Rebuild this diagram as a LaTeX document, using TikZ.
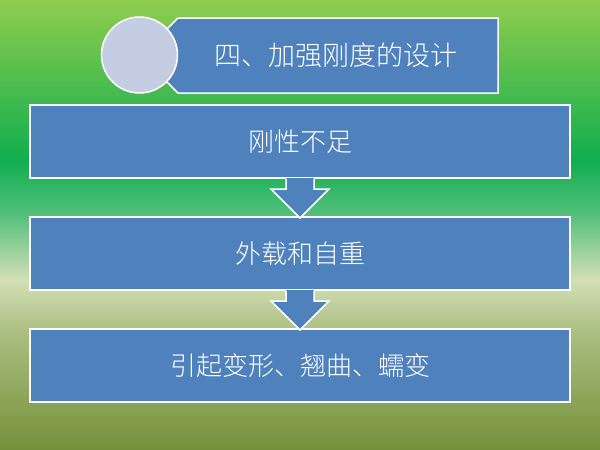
\documentclass[tikz,border=0pt]{standalone}
\usepackage{fontspec}
\newfontfamily\cjk{Noto Sans CJK SC}[UprightFont=* Light]
\definecolor{g0}{HTML}{8FCD4E}
\definecolor{g1}{HTML}{10AE4F}
\definecolor{g2}{HTML}{55C07C}
\definecolor{g3}{HTML}{D3DFB5}
\definecolor{g4}{HTML}{ABBF82}
\definecolor{g5}{HTML}{75913A}
\definecolor{boxblue}{HTML}{4F81BD}
\definecolor{circfill}{HTML}{C5CDE3}
\pgfdeclareverticalshading{bgshade}{100bp}{color(0bp)=(g5); color(25bp)=(g5); color(38.3bp)=(g4); color(43.9bp)=(g3); color(51.1bp)=(g2); color(57.2bp)=(g1); color(75bp)=(g0); color(100bp)=(g0)}
\tikzset{
  bluebox/.style={fill=boxblue, draw=white, line width=1.5pt},
  boxtext/.style={text=white, font=\cjk\fontsize{26}{30}\selectfont, inner sep=0pt},
  arrowfill/.style={fill=boxblue},
  arrowline/.style={draw=white, line width=1.5pt, line join=miter}
}
\begin{document}
\begin{tikzpicture}[x=1pt,y=-1pt]
\useasboundingbox (0,0) rectangle (600,450);
\shade[shading=bgshade] (0,0) rectangle (600,450);
% title shape
\filldraw[bluebox] (178,18) -- (498,18) -- (498,93) -- (178,93) -- (150,65) -- (150,46) -- cycle;
\node[boxtext, font=\cjk\fontsize{27}{30}\selectfont] (title) at (336,55) {四、加强刚度的设计};
\draw[fill=circfill, draw=white, line width=1.5pt] (139.5,55) circle[radius=38];
\coordinate (circ) at (139.5,55);
% boxes
\draw[bluebox] (30,105) rectangle (570,178);
\node[boxtext] (b1) at (300,142) {刚性不足};
\draw[bluebox] (30,217) rectangle (570,290);
\node[boxtext] (b2) at (300,254) {外载和自重};
\draw[bluebox] (30,329) rectangle (570,402);
\node[boxtext] (b3) at (300,366) {引起变形、翘曲、蠕变};
% arrows
\fill[arrowfill] (286,178) -- (314,178) -- (314,189) -- (329,189) -- (300,218) -- (271,189) -- (286,189) -- cycle;
\draw[arrowline] (286,178.8) -- (286,189) -- (271,189) -- (300,218) -- (329,189) -- (314,189) -- (314,178.8);
\fill[arrowfill] (286,290) -- (314,290) -- (314,301) -- (329,301) -- (300,330) -- (271,301) -- (286,301) -- cycle;
\draw[arrowline] (286,290.8) -- (286,301) -- (271,301) -- (300,330) -- (329,301) -- (314,301) -- (314,290.8);
\end{tikzpicture}
\end{document}
